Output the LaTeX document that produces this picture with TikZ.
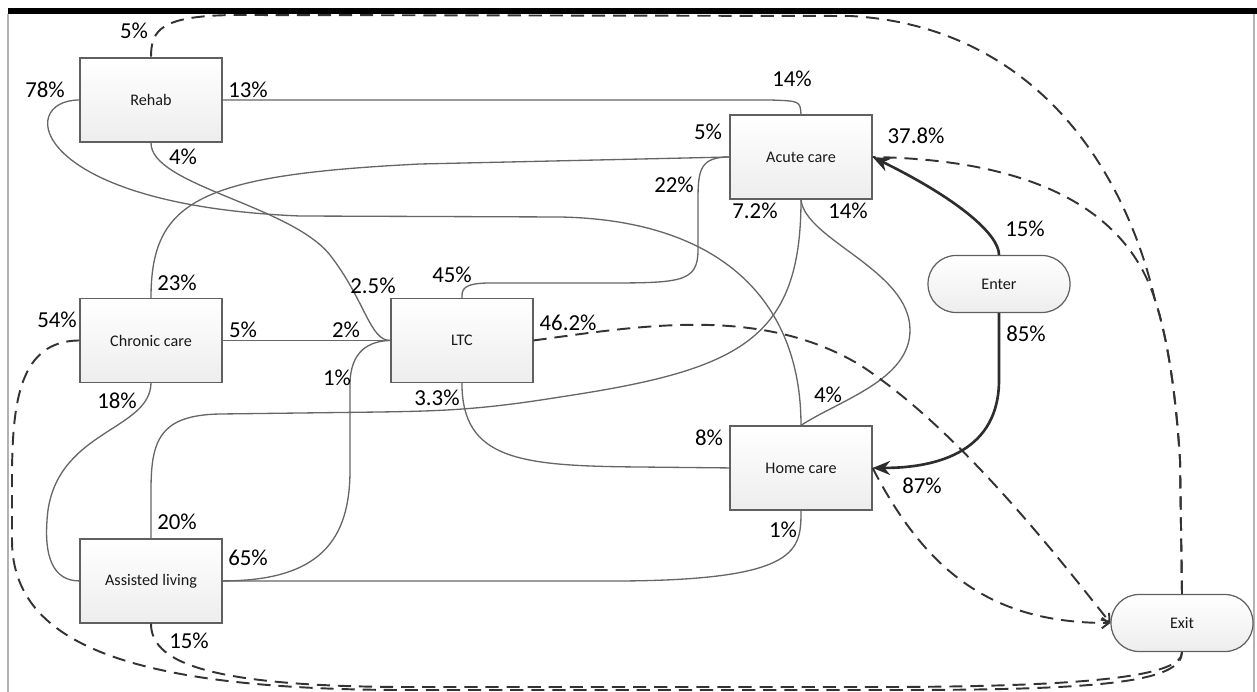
\documentclass[tikz,border=0pt]{standalone}
\usepackage{fontspec}
\setmainfont{Carlito}
\usetikzlibrary{positioning}
\usetikzlibrary{shapes.geometric, arrows.meta, positioning}
\tikzstyle{carebox} = [rectangle, minimum width=2.84cm, minimum height=1.68cm, text centered, draw=gray!75!black, line width=0.7pt, top color=white, bottom color=gray!14, text=gray!20!black, font=\fontsize{9.2}{10}\selectfont]
\tikzstyle{terminal} = [rectangle, rounded corners=0.56cm, minimum width=2.84cm, minimum height=1.14cm, text centered, draw=gray!75!black, line width=0.7pt, top color=white, bottom color=gray!14, text=gray!20!black, font=\fontsize{9.2}{10}\selectfont]
\tikzstyle{flow} = [gray!80!black, line width=0.75pt]
\tikzstyle{leave} = [gray!40!black, line width=1.1pt, dash pattern=on 7.5pt off 4.5pt]
\tikzstyle{leaveto} = [leave, -{Straight Barb[length=4pt,width=6pt]}]
\tikzstyle{arrow} = [gray!35!black, line width=1.5pt, -{Stealth[length=10pt,width=8pt]}]
\tikzstyle{pct} = [inner sep=0pt, font=\fontsize{13}{14}\selectfont]

\begin{document}
\begin{tikzpicture}[x=0.02cm, y=-0.02cm, node distance=4.81cm]
\useasboundingbox (0,0) rectangle (1257,692);
\fill [black] (8,8) rectangle (1257,14);
\draw [gray!60, line width=0.6pt] (8,14) -- (8,692);
\draw [gray!60, line width=0.6pt] (1254,14) -- (1254,692);

\node (rehab) [carebox] at (151,100) {Rehab};
\node (chronic) [carebox, below of=rehab] {Chronic care};
\node (assisted) [carebox, below of=chronic] {Assisted living};
\node (ltc) [carebox, right of=chronic, node distance=6.22cm] {LTC};
\node (acute) [carebox] at (801,157) {Acute care};
\node (home) [carebox, below of=acute, node distance=6.22cm] {Home care};
\node (enter) [terminal] at (999,284) {Enter};
\node (exit) [terminal] at (1182,623) {Exit};

% transfers between care settings
\draw [flow] (rehab.east) -- (770,100) .. controls (800,101) .. (acute.north);
\draw [flow] (rehab.west) .. controls (15,100) and (30,205) .. (300,216) -- (560,217) .. controls (720,220) and (801,300) .. (home.north);
\draw [flow] (rehab.south) .. controls (150,185) and (290,205) .. (330,255) .. controls (365,300) and (370,341) .. (ltc.west);
\draw [flow] (chronic.east) -- (ltc.west);
\draw [flow] (chronic.north) .. controls (151,200) and (200,175) .. (420,164) -- (acute.west);
\draw [flow] (acute.west) .. controls (700,157) and (698,170) .. (698,200) -- (698,250) .. controls (698,283) and (680,283) .. (600,283) -- (490,283) .. controls (462,283) and (462,290) .. (ltc.north);
\draw [flow] (ltc.south) .. controls (462,460) and (520,466) .. (640,467) -- (home.west);
\draw [flow] (acute.south) .. controls (801,340) and (740,370) .. (560,397) .. controls (480,410) and (440,411) .. (380,412) -- (220,414) .. controls (160,415) and (151,440) .. (151,490) -- (assisted.north);
\draw [flow] (acute.south) .. controls (805,240) and (910,270) .. (910,330) .. controls (910,380) and (840,400) .. (home.north);
\draw [flow] (chronic.south) .. controls (150,430) and (60,430) .. (48,510) .. controls (42,560) and (55,581) .. (assisted.west);
\draw [flow] (assisted.east) .. controls (320,581) and (350,540) .. (350,470) -- (350,385) .. controls (350,350) and (370,341) .. (ltc.west);
\draw [flow] (assisted.east) -- (620,581) .. controls (800,580) and (801,550) .. (home.south);

% leaving the system
\draw [leave] (exit.north) -- (1180,460) .. controls (1175,380) and (1165,330) .. (1155,300) .. controls (1120,150) and (1020,25) .. (850,16) -- (240,15) .. controls (160,15) and (151,30) .. (rehab.north);
\draw [leave] (exit.north) -- (1180,460) .. controls (1175,380) and (1165,330) .. (1155,300) .. controls (1130,220) and (1050,160) .. (acute.east);
\draw [leaveto] (ltc.east) .. controls (640,326) and (760,305) .. (860,365) .. controls (960,430) and (1060,560) .. (exit.west);
\draw [leaveto] (home.east) .. controls (930,580) and (1000,623) .. (exit.west);
\draw [leave] (chronic.west) .. controls (20,341) and (12,400) .. (12,480) -- (12,540) .. controls (12,640) and (120,689) .. (400,690) -- (900,690) .. controls (1100,690) and (1182,682) .. (exit.south);
\draw [leave] (assisted.south) .. controls (151,660) and (200,686) .. (400,687) -- (900,687) .. controls (1100,686) and (1182,675) .. (exit.south);

% entering the system
\draw [arrow] (enter.north) .. controls (999,235) and (960,200) .. (acute.east);
\draw [arrow] (enter.south) -- (999,380) .. controls (999,450) and (940,468) .. (home.east);

% percentages
\node (rehabtop) [pct] at (134,31) {5\%};
\node (rehabwest) [pct] at (45,90) {78\%};
\node (rehabeast) [pct] at (248,90) {13\%};
\node (rehabsouth) [pct] at (183,157) {4\%};
\node (acutetop) [pct] at (792,79) {14\%};
\node (acutewest) [pct] at (708,132) {5\%};
\node (acuteltc) [pct] at (674,185) {22\%};
\node (acutesw) [pct] at (755,211) {7.2\%};
\node (acutese) [pct] at (848,211) {14\%};
\node (acuteeast) [pct] at (916,136) {37.8\%};
\node (enterup) [pct] at (1025,229) {15\%};
\node (enterdown) [pct] at (1026,334) {85\%};
\node (chronictop) [pct] at (177,283) {23\%};
\node (chronicwest) [pct] at (57,320) {54\%};
\node (chroniceast) [pct] at (243,330) {5\%};
\node (chronicsouth) [pct] at (117,401) {18\%};
\node (ltcchronic) [pct] at (346,330) {2\%};
\node (ltcrehab) [pct] at (373,286) {2.5\%};
\node (ltcassisted) [pct] at (337,378) {1\%};
\node (ltctop) [pct] at (452,275) {45\%};
\node (ltceast) [pct] at (568,323) {46.2\%};
\node (ltcsouth) [pct] at (437,398) {3.3\%};
\node (homewest) [pct] at (709,438) {8\%};
\node (hometop) [pct] at (828,395) {4\%};
\node (homeeast) [pct] at (922,486) {87\%};
\node (homesouth) [pct] at (783,530) {1\%};
\node (assistedtop) [pct] at (177,522) {20\%};
\node (assistedeast) [pct] at (248,558) {65\%};
\node (assistedsouth) [pct] at (189,641) {15\%};

\end{tikzpicture}
\end{document}
